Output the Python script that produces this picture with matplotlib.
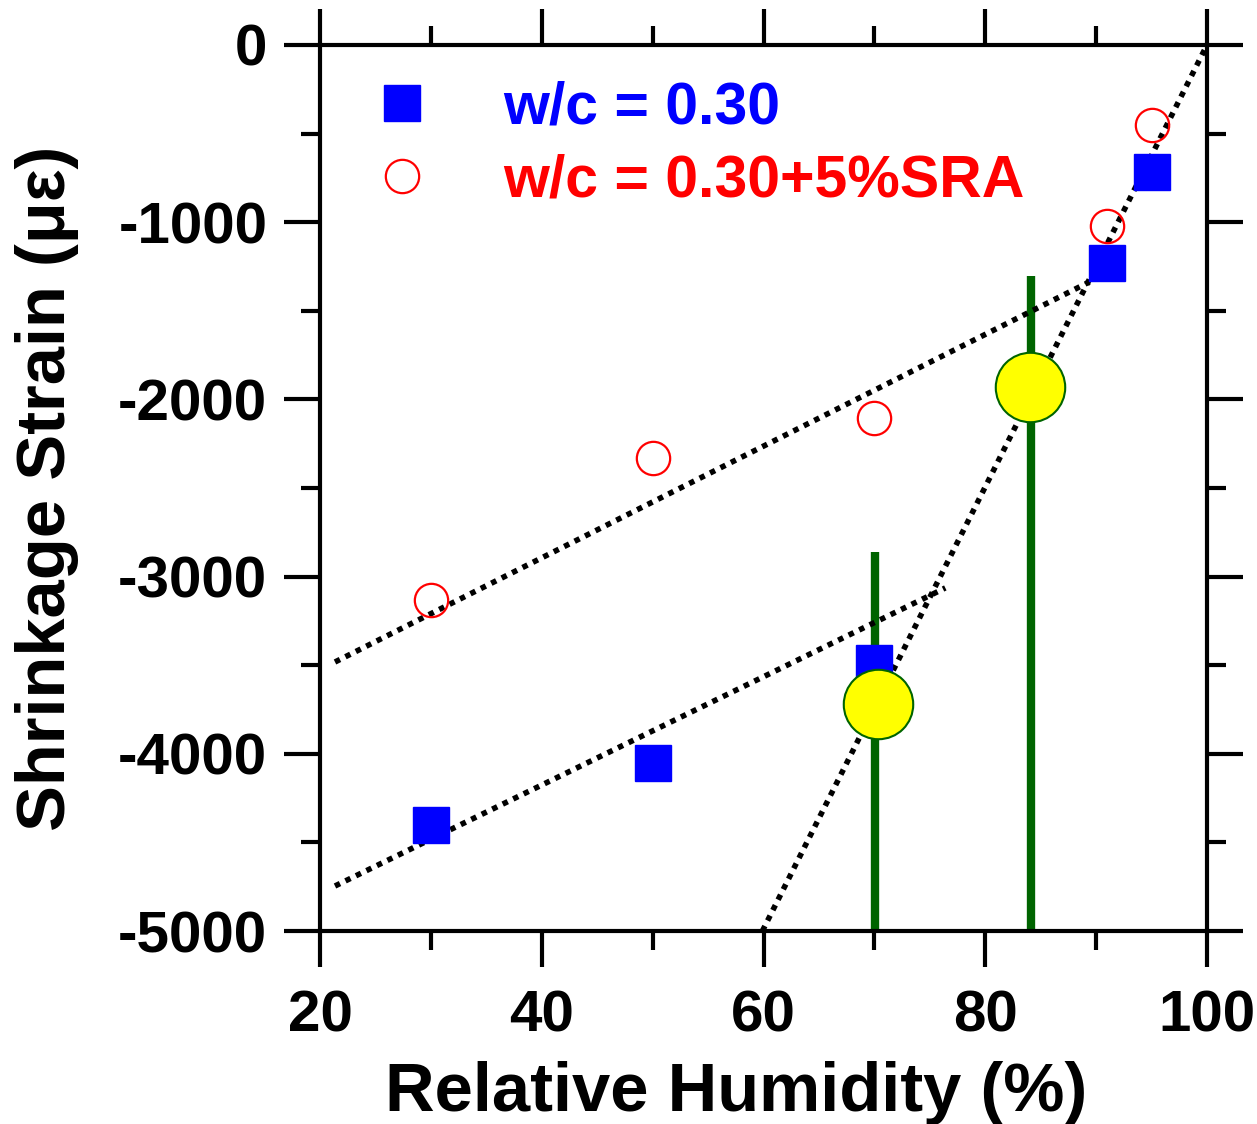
import matplotlib.pyplot as plt
from matplotlib.lines import Line2D
from matplotlib.ticker import MultipleLocator

plt.rcParams['font.family'] = ['Liberation Sans', 'DejaVu Sans']
plt.rcParams['font.weight'] = 'bold'
plt.rcParams['axes.unicode_minus'] = False

# measured data
rh = [30, 50, 70, 91, 95]
strain_wc030 = [-4400, -4050, -3490, -1230, -717]
strain_sra = [-3132, -2331, -2105, -1021, -451]

# critical points (yellow) and their vertical markers
crit_rh = [70.3, 84.0]
crit_strain = [-3719, -1930]
vline_rh = [70.1, 84.1]
vline_top = [-2861, -1304]

# dotted trend lines (end points)
fit_sra_x = [21.35, 89.4]
fit_sra_y = [-3482, -1337]
fit_wc_x = [21.35, 76.4]
fit_wc_y = [-4746, -3064]
fit_steep_x = [59.9, 100]
fit_steep_y = [-5000, 0]

fig = plt.figure(figsize=(12.57, 11.24), dpi=100)
ax = fig.add_axes([0.2546, 0.1717, 0.7056, 0.7883])

# green vertical lines
for x, top in zip(vline_rh, vline_top):
    ax.plot([x, x], [-5000, top], color='#006400', lw=6, zorder=2, solid_capstyle='butt')

# dotted fits
for fx, fy in [(fit_sra_x, fit_sra_y), (fit_wc_x, fit_wc_y), (fit_steep_x, fit_steep_y)]:
    ax.plot(fx, fy, color='black', lw=4, dashes=(1, 1.1), zorder=3)

ax.plot(rh, strain_wc030, ls='none', marker='s', ms=26, mfc='blue', mec='blue', zorder=4)
ax.plot(rh, strain_sra, ls='none', marker='o', ms=24, mfc='none', mec='red', mew=1.6, zorder=4)
ax.plot(crit_rh, crit_strain, ls='none', marker='o', ms=50, mfc='yellow', mec='#006400', mew=1.5, zorder=5)

ax.set_xlim(20, 100)
ax.set_ylim(-5000, 0)
ax.xaxis.set_major_locator(MultipleLocator(20))
ax.xaxis.set_minor_locator(MultipleLocator(10))
ax.yaxis.set_major_locator(MultipleLocator(1000))
ax.yaxis.set_minor_locator(MultipleLocator(500))

for s in ax.spines.values():
    s.set_linewidth(3)
ax.tick_params(which='both', direction='out', top=True, right=True, width=3, labelsize=42)
ax.tick_params(which='major', length=26)
ax.tick_params(which='minor', length=14)
ax.tick_params(axis='x', pad=16)
ax.tick_params(axis='y', pad=12)

ax.set_xlabel('Relative Humidity (%)', fontsize=49.5, fontweight='bold')
ax.set_ylabel('Shrinkage Strain (με)', fontsize=49.5, fontweight='bold')
ax.xaxis.set_label_coords(0.469, -0.147)
ax.yaxis.set_label_coords(-0.272, 0.5)

handles = [
    Line2D([], [], ls='none', marker='s', ms=26, mfc='blue', mec='blue'),
    Line2D([], [], ls='none', marker='o', ms=24, mfc='none', mec='red', mew=1.6),
]
ax.legend(handles, ['w/c = 0.30', 'w/c = 0.30+5%SRA'], labelcolor=['blue', 'red'],
          loc='upper left', bbox_to_anchor=(0.026, 0.993), frameon=False, borderpad=0,
          handlelength=1.0, handletextpad=1.22, labelspacing=0.3,
          prop={'size': 42.5, 'weight': 'bold'})

fig.savefig('out.png', dpi=100)
